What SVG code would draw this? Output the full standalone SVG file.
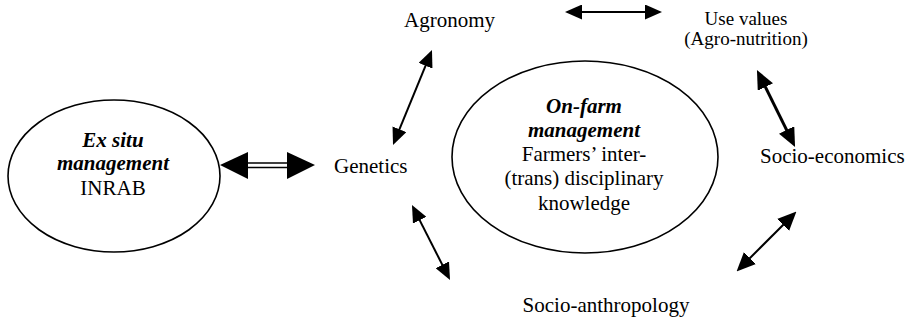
<svg xmlns="http://www.w3.org/2000/svg" width="910" height="324" viewBox="0 0 910 324">
<style>
  .t { font-family: "Liberation Serif", "Times New Roman", serif; fill: #000; }
  .lbl { font-size: 21px; }
  .sm { font-size: 19px; }
  .bi { font-weight: bold; font-style: italic; }
  .mid { text-anchor: middle; }
  .oval { fill: none; stroke: #000; stroke-width: 1.6; }
  .conn { stroke: #000; fill: none; }
</style>
<defs>
  <marker id="ah" viewBox="0 0 17 15" refX="11" refY="7.5" markerWidth="17" markerHeight="15" markerUnits="userSpaceOnUse" orient="auto-start-reverse">
    <path d="M0,0 L17,7.5 L0,15 z" fill="#000"/>
  </marker>
  <marker id="ahb" viewBox="0 0 19 17" refX="11" refY="8.5" markerWidth="19" markerHeight="17" markerUnits="userSpaceOnUse" orient="auto-start-reverse">
    <path d="M0,0 L19,8.5 L0,17 z" fill="#000"/>
  </marker>
</defs>

<g id="exsitu">
  <ellipse class="oval" cx="114" cy="176" rx="106" ry="76"/>
  <text class="t lbl bi mid" x="113" y="147">Ex situ</text>
  <text class="t lbl bi mid" x="113" y="170">management</text>
  <text class="t lbl mid" x="113" y="195">INRAB</text>
</g>

<g id="onfarm">
  <ellipse class="oval" cx="585" cy="157" rx="133" ry="96"/>
  <text class="t lbl bi mid" x="584" y="113">On-farm</text>
  <text class="t lbl bi mid" x="584" y="137">management</text>
  <text class="t lbl mid" x="584" y="161">Farmers’ inter-</text>
  <text class="t lbl mid" x="584" y="185">(trans) disciplinary</text>
  <text class="t lbl mid" x="584" y="210">knowledge</text>
</g>

<g id="genetics"><text class="t lbl" x="334" y="173">Genetics</text></g>
<g id="agronomy"><text class="t lbl" x="404" y="27">Agronomy</text></g>
<g id="usevalues">
  <text class="t sm mid" x="746" y="25">Use values</text>
  <text class="t sm mid" x="746" y="45">(Agro-nutrition)</text>
</g>
<g id="socioeconomics"><text class="t lbl" x="760" y="163">Socio-economics</text></g>
<g id="socioanthropology"><text class="t lbl mid" x="606" y="312">Socio-anthropology</text></g>

<g id="connectors">
  <line class="conn" x1="246" y1="163" x2="289" y2="163" stroke-width="1.6"/>
  <line class="conn" x1="246" y1="167.5" x2="289" y2="167.5" stroke-width="1.6"/>
  <polygon points="220,165 248,152 248,179" fill="#000"/>
  <polygon points="315,165 287,152 287,179" fill="#000"/>
  <line class="conn" x1="571" y1="12" x2="656" y2="12" stroke-width="2" marker-start="url(#ah)" marker-end="url(#ah)"/>
  <line class="conn" x1="429.7" y1="55.6" x2="395.3" y2="139.4" stroke-width="2" marker-start="url(#ah)" marker-end="url(#ah)"/>
  <line class="conn" x1="414.7" y1="210.4" x2="447.3" y2="274.6" stroke-width="2" marker-start="url(#ah)" marker-end="url(#ah)"/>
  <line class="conn" x1="760.5" y1="77.2" x2="791.5" y2="139.8" stroke-width="3" marker-start="url(#ahb)" marker-end="url(#ahb)"/>
  <line class="conn" x1="790.8" y1="217.2" x2="742.2" y2="265.8" stroke-width="2" marker-start="url(#ahb)" marker-end="url(#ahb)"/>
</g>
</svg>
